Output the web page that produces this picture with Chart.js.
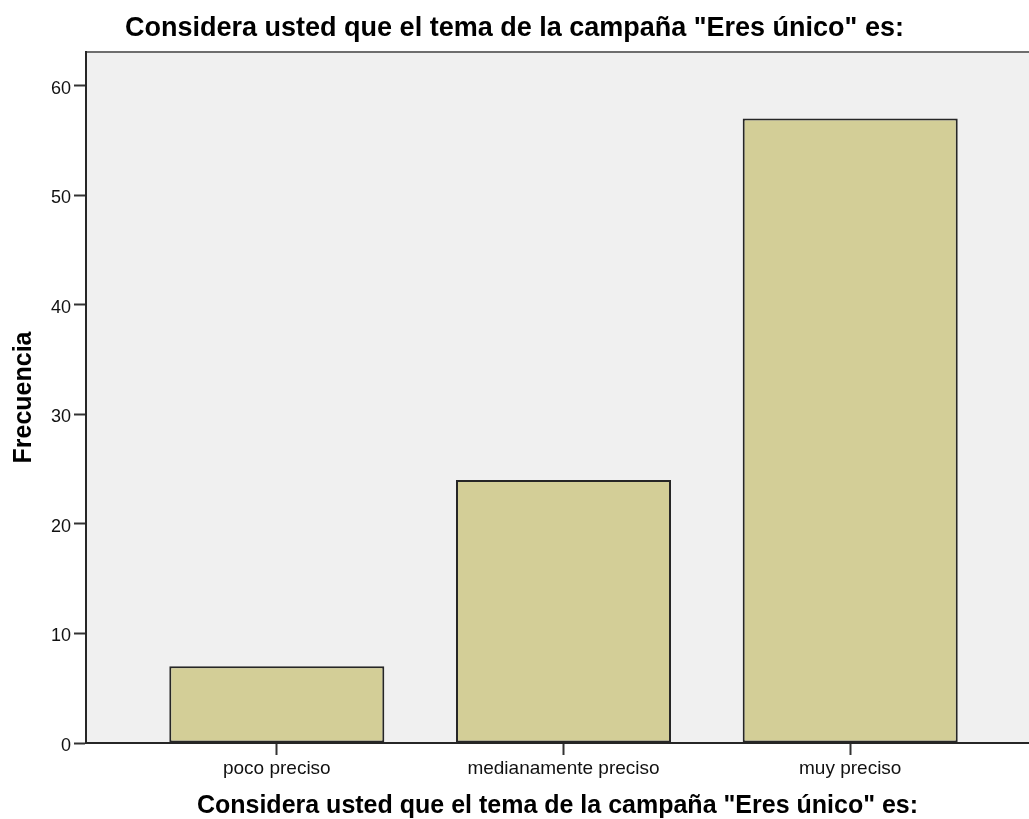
<!DOCTYPE html>
<html>
<head>
<meta charset="utf-8">
<script src="https://cdn.jsdelivr.net/npm/chart.js@4/dist/chart.umd.min.js"></script>
<style>
  html, body { margin: 0; padding: 0; background: #fff; }
  #wrap { width: 1029px; height: 819px; position: relative; }
</style>
</head>
<body>
<div id="wrap"><canvas id="grafico"></canvas></div>
<script>
// ---------------- datos ----------------
const categorias = ['poco preciso', 'medianamente preciso', 'muy preciso'];
const frecuencias = [7, 24, 57];
const pasoY = 10;
const tituloGrafico = 'Considera usted que el tema de la campaña "Eres único" es:';
const tituloEjeX = 'Considera usted que el tema de la campaña "Eres único" es:';
const tituloEjeY = 'Frecuencia';

const fuente = "'Liberation Sans', Arial, sans-serif";

// fondo gris del area de trazado + linea superior
const marcoGrafico = {
    id: 'marcoGrafico',
    beforeDraw(chart) {
        const {ctx, chartArea: a} = chart;
        ctx.save();
        ctx.fillStyle = '#f0f0f0';
        ctx.fillRect(a.left, a.top, a.right - a.left, a.bottom - a.top);
        ctx.strokeStyle = '#6e6e6e';
        ctx.lineWidth = 2;
        ctx.beginPath();
        ctx.moveTo(a.left, a.top);
        ctx.lineTo(a.right, a.top);
        ctx.stroke();
        ctx.restore();
    }
};

var ctx = document.getElementById('grafico').getContext('2d');
var chart = new Chart(ctx, {
    type: 'bar',
    data: {
        datasets: [{
            data: frecuencias.map((v, i) => ({x: i, y: v})),
            backgroundColor: '#d3ce97',
            borderColor: '#262626',
            borderWidth: 2,
            borderSkipped: false,
            categoryPercentage: 1,
            barPercentage: 0.75
        }]
    },
    options: {
        responsive: true,
        maintainAspectRatio: false,
        animation: false,
        layout: { padding: 0 },
        plugins: {
            legend: { display: false },
            tooltip: { enabled: false },
            title: {
                display: true,
                text: tituloGrafico,
                color: '#000',
                font: { family: fuente, size: 27, weight: 'bold', lineHeight: 1 },
                padding: { top: 15.5, bottom: 9.5 }
            }
        },
        scales: {
            x: {
                type: 'linear',
                offset: false,
                min: -0.6655,
                max: 2.6236,
                afterFit: (s) => { s.height = 76; },
                afterBuildTicks: (s) => {
                    s.ticks = categorias.map((c, i) => ({value: i}));
                },
                ticks: {
                    stepSize: 1,
                    includeBounds: false,
                    autoSkip: false,
                    maxRotation: 0,
                    padding: 2,
                    color: '#111',
                    font: { family: fuente, size: 19, lineHeight: 1.2 },
                    callback: (v) => categorias[v]
                },
                grid: {
                    display: true,
                    offset: false,
                    drawOnChartArea: false,
                    drawTicks: true,
                    tickLength: 12,
                    tickWidth: 2,
                    tickColor: '#333'
                },
                border: { display: true, color: '#262626', width: 2 },
                title: {
                    display: true,
                    text: tituloEjeX,
                    color: '#000',
                    font: { family: fuente, size: 25, weight: 'bold', lineHeight: 1 },
                    padding: { top: 0, bottom: 0 }
                }
            },
            y: {
                min: 0,
                max: 63.07,
                afterFit: (s) => { s.width = 86; },
                ticks: {
                    stepSize: pasoY,
                    includeBounds: false,
                    padding: 3,
                    labelOffset: 3,
                    color: '#111',
                    font: { family: fuente, size: 18 }
                },
                grid: {
                    display: true,
                    drawOnChartArea: false,
                    drawTicks: true,
                    tickLength: 12,
                    tickWidth: 2,
                    tickColor: '#333'
                },
                border: { display: true, color: '#262626', width: 2 },
                title: {
                    display: true,
                    text: tituloEjeY,
                    color: '#000',
                    font: { family: fuente, size: 25, weight: 'bold', lineHeight: 1 },
                    padding: { top: 11.5, bottom: 0 }
                }
            }
        }
    },
    plugins: [marcoGrafico]
});
</script>
</body>
</html>
